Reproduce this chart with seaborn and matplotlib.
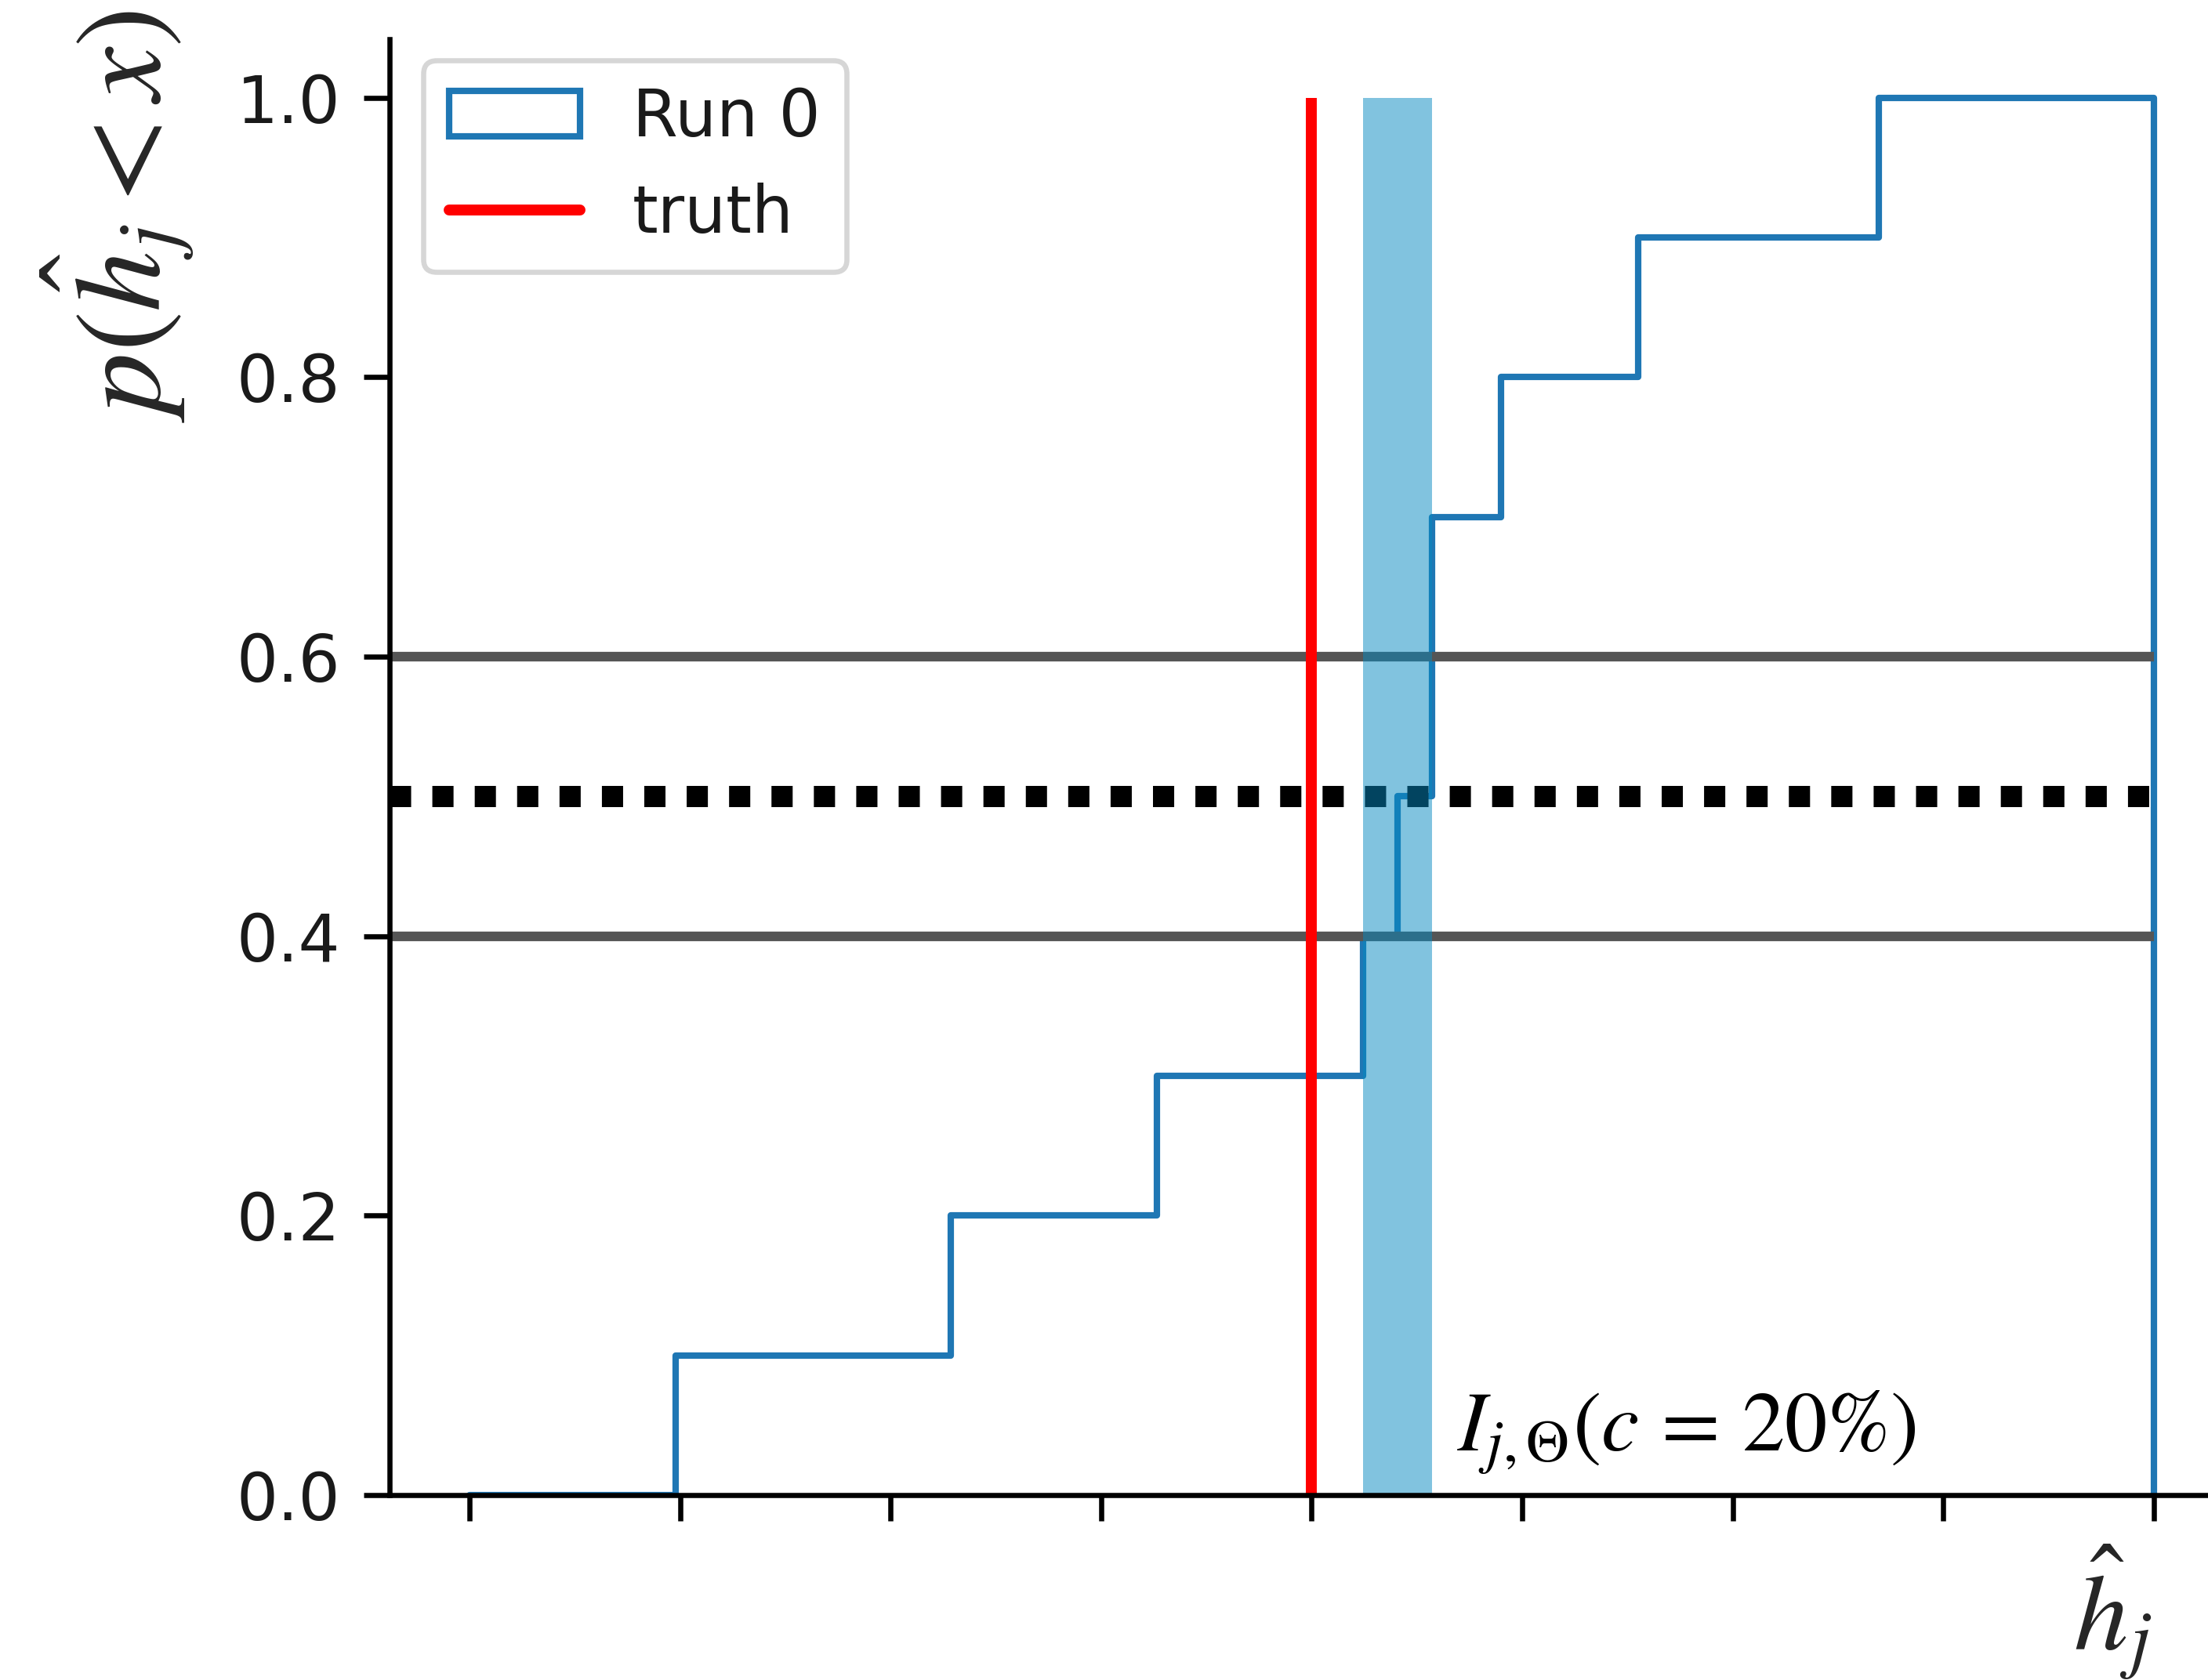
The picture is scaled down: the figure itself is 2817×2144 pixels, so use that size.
import numpy as np
import pandas as pd
import matplotlib
matplotlib.use("Agg")
import matplotlib.pyplot as plt
from matplotlib.patches import Patch
from matplotlib.lines import Line2D
import seaborn as sns

# ---------------- data ----------------
samples = [1.05, 2.35, 3.33, 4.30, 4.48, 4.62, 4.68, 4.95, 5.62, 6.76]
run_label = "Run 0"
truth = 4.0
bin_lo, bin_hi, n_edges = 0.0, 8.0, 50
conf_level = 0.20          # c = 20%
band_lines = [0.4, 0.6]    # 0.5 -/+ c/2
median_level = 0.5
y_ticks = [0.0, 0.2, 0.4, 0.6, 0.8, 1.0]
y_tick_labels = ["0.0", "0.2", "0.4", "0.6", "0.8", "1.0"]
n_xticks = 9

# ---------------- style ----------------
sns.set_theme(style="ticks")
plt.rcParams["font.family"] = ["DejaVu Sans"]
plt.rcParams["mathtext.fontset"] = "stix"

blue = "#1f77b4"
span_color = "#0589c1"
S = 5.9  # global scale factor

fig = plt.figure(figsize=(28.17, 21.44), dpi=100)
ax = fig.add_axes([0.1764, 0.1101, 0.8236, 0.8666])

bin_edges = np.linspace(bin_lo, bin_hi, n_edges)
df = pd.DataFrame({"value": samples})

sns.histplot(data=df, x="value", bins=bin_edges, stat="proportion",
             cumulative=True, element="step", fill=False,
             color=blue, linewidth=1.0 * S, ax=ax, zorder=2)

# closing drop of the step histogram at the last edge
counts, _ = np.histogram(samples, bins=bin_edges)
cdf = np.cumsum(counts) / len(samples)
ax.vlines(bin_edges[-1], 0, cdf[-1], color=blue, lw=1.0 * S, zorder=2)

# credible interval from the CDF
lo_idx = int(np.argmax(cdf >= median_level - conf_level / 2 - 1e-9))
hi_idx = int(np.argmax(cdf >= median_level + conf_level / 2 - 1e-9))
span_lo, span_hi = bin_edges[lo_idx], bin_edges[hi_idx]

xlim = (-0.38, 8.258)
ax.set_xlim(*xlim)
ax.set_ylim(0, 1.042)

ax.fill_between([span_lo, span_hi], 0, 1, color=span_color, alpha=0.5,
                lw=0, zorder=5)

ax.hlines(band_lines, xlim[0], bin_edges[-1], color="#555555",
          lw=1.5 * S, zorder=3)
ax.hlines(median_level, xlim[0], bin_edges[-1], color="black",
          lw=3.3 * S, linestyles=[(0, (1, 1))], zorder=4)
ax.vlines(truth, 0, 1, color="red", lw=1.7 * S, zorder=3.5)

ax.text(4.69, 0.031, r"$I_{j,\Theta}(c\,=\,20\%)$", fontsize=78,
        ha="left", va="baseline", color="black")

# axes cosmetics
ax.set_xticks(np.linspace(bin_lo, bin_hi, n_xticks))
ax.set_xticklabels([""] * n_xticks)
ax.set_yticks(y_ticks)
ax.set_yticklabels(y_tick_labels)
ax.set_xlabel("")
ax.set_ylabel("")
for side in ["top", "right"]:
    ax.spines[side].set_visible(False)
for side in ["left", "bottom"]:
    ax.spines[side].set_linewidth(0.8 * S)
    ax.spines[side].set_color("black")
    ax.spines[side].set_zorder(6)
ax.tick_params(axis="both", length=24, width=0.8 * S, color="black",
               labelsize=60, labelcolor="#1a1a1a", pad=21)

handles = [Patch(facecolor="none", edgecolor=blue, lw=1.0 * S, label=run_label),
           Line2D([], [], color="red", lw=1.7 * S, label="truth")]
leg = ax.legend(handles=handles, loc="upper left",
                bbox_to_anchor=(0.1917, 0.9641), bbox_transform=fig.transFigure,
                borderaxespad=0, fontsize=60, frameon=True, fancybox=True,
                framealpha=0.8, edgecolor="0.8")
leg.get_frame().set_linewidth(0.8 * S)
for t in leg.get_texts():
    t.set_color("#1a1a1a")

fig.text(149 / 2817, 1 - 276 / 2144, r"$p(\hat{h}_j < x)$", rotation=90,
         fontsize=112, ha="center", va="center")
fig.text(2695 / 2817, 1 - 2058 / 2144, r"$\hat{h}_j$",
         fontsize=100, ha="center", va="center")

fig.savefig("out.png", dpi=100)
